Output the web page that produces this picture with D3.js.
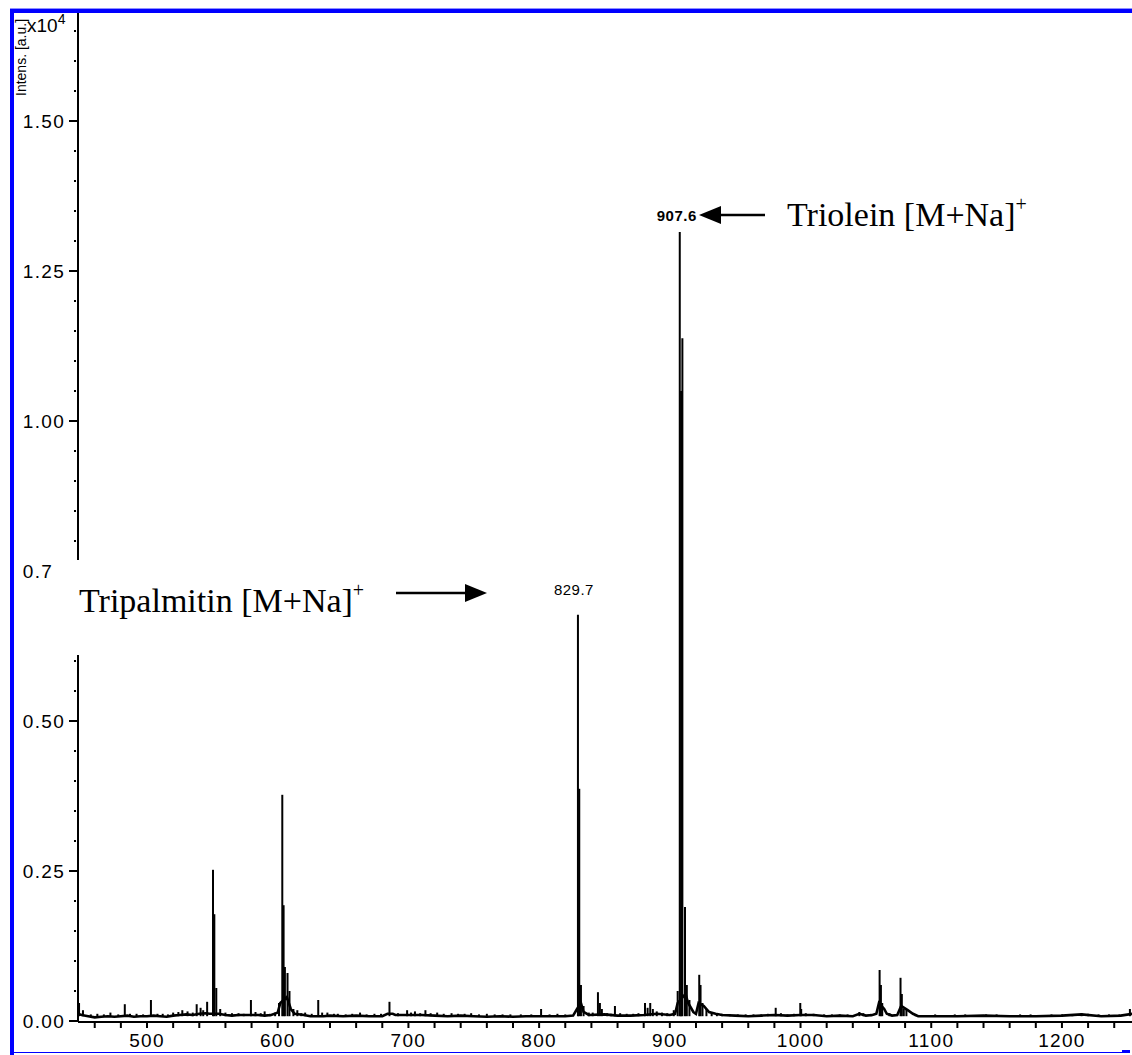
<!DOCTYPE html>
<html>
<head>
<meta charset="utf-8">
<script src="https://cdn.jsdelivr.net/npm/d3@7"></script>
<style>
  body { margin: 0; background: #fff; }
  svg { display: block; }
</style>
</head>
<body>
<div id="chart"></div>
<script>
const width = 1132;
const height = 1055;

// noisy baseline of the spectrum, [m/z, intensity x10^4]
const baseline = [
  [447, 0.012], [450, 0.010], [455, 0.008], [460, 0.006], [465, 0.007], [470, 0.008],
  [475, 0.007], [480, 0.008], [485, 0.009], [490, 0.007], [495, 0.008], [500, 0.008],
  [505, 0.009], [510, 0.008], [515, 0.007], [520, 0.009], [525, 0.010], [530, 0.011],
  [535, 0.010], [540, 0.012], [545, 0.013], [548, 0.012], [555, 0.012], [560, 0.010],
  [565, 0.009], [570, 0.010], [575, 0.010], [585, 0.010], [590, 0.009], [595, 0.010],
  [600, 0.014], [602, 0.030], [607, 0.040], [610, 0.020], [613, 0.012], [620, 0.010],
  [625, 0.008], [635, 0.008], [640, 0.009], [650, 0.008], [660, 0.009], [670, 0.008],
  [680, 0.008], [684, 0.012], [688, 0.012], [690, 0.010], [700, 0.010], [710, 0.010],
  [720, 0.009], [730, 0.008], [740, 0.009], [750, 0.008], [760, 0.007], [770, 0.008],
  [780, 0.007], [790, 0.008], [800, 0.008], [810, 0.008], [820, 0.008], [826, 0.009],
  [829, 0.020], [832, 0.030], [834, 0.015], [838, 0.010], [850, 0.011], [860, 0.009],
  [870, 0.009], [880, 0.010], [890, 0.012], [900, 0.010], [904, 0.012], [906, 0.030],
  [912, 0.045], [914, 0.030], [918, 0.015], [920, 0.012], [922, 0.030], [926, 0.025],
  [930, 0.015], [935, 0.012], [940, 0.010], [950, 0.009], [960, 0.008], [970, 0.009],
  [980, 0.010], [990, 0.009], [1000, 0.010], [1010, 0.010], [1020, 0.008], [1030, 0.009],
  [1040, 0.008], [1045, 0.012], [1050, 0.009], [1055, 0.010], [1058, 0.012], [1060, 0.030],
  [1064, 0.020], [1066, 0.012], [1070, 0.009], [1074, 0.010], [1077, 0.025], [1082, 0.018],
  [1086, 0.012], [1090, 0.008], [1100, 0.008], [1120, 0.008], [1140, 0.009], [1160, 0.008],
  [1180, 0.008], [1200, 0.009], [1215, 0.011], [1230, 0.008], [1245, 0.009], [1254, 0.012]
];

// peak sticks, [m/z, intensity x10^4]
const peaks = [
  [448, 0.030], [451, 0.018], [457, 0.011], [462, 0.012], [467, 0.011], [472, 0.014],
  [478, 0.011], [483, 0.028], [487, 0.012], [492, 0.012], [497, 0.011], [503, 0.035],
  [508, 0.012], [512, 0.012], [516, 0.011], [520, 0.014], [524, 0.015], [527, 0.018],
  [531, 0.016], [535, 0.014], [538, 0.028], [541, 0.022], [543, 0.018], [546, 0.032],
  [550.5, 0.252], [551.5, 0.178], [553, 0.055], [556, 0.020], [560, 0.014], [565, 0.013],
  [570, 0.013], [574, 0.012], [579.5, 0.035], [583, 0.015], [587, 0.013], [590, 0.016],
  [594, 0.012], [598, 0.014], [601, 0.030], [603.5, 0.377], [604.5, 0.193], [605.5, 0.090],
  [607.5, 0.080], [609, 0.050], [612, 0.020], [615, 0.018], [618, 0.013], [621, 0.014],
  [626, 0.012], [631, 0.035], [634, 0.014], [638, 0.014], [643, 0.012], [646, 0.012],
  [652, 0.011], [657, 0.012], [663, 0.014], [668, 0.011], [674, 0.012], [679, 0.012],
  [685.5, 0.032], [692, 0.013], [699, 0.018], [702, 0.014], [705, 0.016], [709, 0.013],
  [713, 0.018], [717, 0.013], [722, 0.014], [727, 0.012], [733, 0.013], [738, 0.012],
  [743, 0.012], [748, 0.013], [754, 0.011], [760, 0.012], [766, 0.011], [772, 0.011],
  [778, 0.011], [786, 0.011], [794, 0.011], [801.5, 0.020], [808, 0.011], [814, 0.012],
  [820, 0.011], [829.7, 0.677], [830.7, 0.387], [832, 0.060], [834, 0.025], [838, 0.014],
  [841, 0.014], [845, 0.048], [846.5, 0.030], [848, 0.020], [852, 0.013], [855, 0.012],
  [858, 0.025], [862, 0.013], [867, 0.012], [872, 0.012], [876, 0.013], [881, 0.030],
  [883, 0.022], [885, 0.030], [887, 0.020], [890, 0.016], [894, 0.014], [898, 0.013],
  [903, 0.018], [906, 0.050], [907.6, 1.315], [908.6, 1.050], [909.6, 1.138], [911.6, 0.190],
  [913, 0.060], [915, 0.035], [922.5, 0.077], [923.5, 0.060], [925, 0.030], [928, 0.020],
  [932, 0.015], [936, 0.013], [940, 0.012], [946, 0.011], [952, 0.011], [958, 0.011],
  [964, 0.011], [970, 0.011], [975, 0.012], [981, 0.022], [985, 0.013], [990, 0.011],
  [995, 0.012], [999.8, 0.030], [1000.5, 0.020], [1004, 0.013], [1010, 0.012], [1018, 0.011],
  [1024, 0.011], [1030, 0.011], [1036, 0.011], [1045, 0.015], [1048, 0.013], [1054, 0.012],
  [1060.5, 0.085], [1061.5, 0.060], [1062.5, 0.030], [1068, 0.013], [1076.5, 0.072],
  [1077.5, 0.045], [1079, 0.020], [1081, 0.020], [1088, 0.011], [1095, 0.010], [1103, 0.011],
  [1110, 0.010], [1118, 0.011], [1126, 0.011], [1134, 0.010], [1142, 0.011], [1150, 0.011],
  [1160, 0.010], [1168, 0.011], [1176, 0.011], [1184, 0.010], [1192, 0.011], [1200, 0.011],
  [1208, 0.011], [1215, 0.013], [1220, 0.012], [1228, 0.011], [1236, 0.011], [1244, 0.011],
  [1252, 0.020]
];

const yTicks = [0, 0.25, 0.5, 0.75, 1.0, 1.25, 1.5];
const xTicks = [500, 600, 700, 800, 900, 1000, 1100, 1200];
const peakLabels = [[829.7, 0.677, '829.7'], [907.6, 1.315, '907.6']];

const margin = { left: 78, top: 13, right: 0, bottom: 34 };

const svg = d3.select('#chart')
    .append('svg')
    .attr('width', width)
    .attr('height', height);

svg.append('rect')
    .attr('width', width)
    .attr('height', height)
    .attr('fill', '#fff');

const x = d3.scaleLinear()
    .domain([447.2, 1253.6])
    .range([margin.left, width]);

const y = d3.scaleLinear()
    .domain([0, 1.7])
    .range([1021, 1]);

// spectrum
svg.append('clipPath').attr('id', 'plot')
  .append('rect')
    .attr('x', margin.left)
    .attr('y', margin.top)
    .attr('width', width - margin.left)
    .attr('height', 1021 - margin.top);

const plot = svg.append('g').attr('clip-path', 'url(#plot)');

const line = d3.line()
    .x(d => x(d[0]))
    .y(d => y(d[1]));

plot.append('path')
    .datum(baseline)
    .attr('d', line)
    .attr('fill', 'none')
    .attr('stroke', '#000')
    .attr('stroke-width', 2.6);

plot.selectAll('.stick')
    .data(peaks)
    .enter().append('line')
    .attr('class', 'stick')
    .attr('x1', d => x(d[0]))
    .attr('x2', d => x(d[0]))
    .attr('y1', y(0.008))
    .attr('y2', d => y(d[1]))
    .attr('stroke', '#000')
    .attr('stroke-width', 2);

// y axis
const axisFont = 'Liberation Sans, Arial, sans-serif';

svg.append('line')
    .attr('x1', margin.left).attr('x2', margin.left)
    .attr('y1', margin.top).attr('y2', y(0) + 1)
    .attr('stroke', '#000').attr('stroke-width', 2);

const minor = d3.range(0.05, 1.68, 0.05).filter(v => Math.abs(v / 0.25 - Math.round(v / 0.25)) > 0.01);
svg.selectAll('.ydot')
    .data(minor)
    .enter().append('rect')
    .attr('x', margin.left - 4)
    .attr('y', d => y(d) - 1)
    .attr('width', 2).attr('height', 2)
    .attr('fill', '#000');

const yt = svg.selectAll('.ytick')
    .data(yTicks)
    .enter().append('g')
    .attr('transform', d => `translate(0,${y(d)})`);
yt.append('line')
    .attr('x1', margin.left - 9).attr('x2', margin.left)
    .attr('stroke', '#000').attr('stroke-width', 2);
yt.append('text')
    .attr('x', margin.left - 13)
    .attr('dy', '0.36em')
    .attr('text-anchor', 'end')
    .style('font-family', axisFont)
    .style('font-size', '19px')
    .style('letter-spacing', '1.3px')
    .text(d => d.toFixed(2));

// x axis
svg.append('line')
    .attr('x1', margin.left).attr('x2', width)
    .attr('y1', y(0) + 1).attr('y2', y(0) + 1)
    .attr('stroke', '#000').attr('stroke-width', 2);

svg.selectAll('.xminor')
    .data(d3.range(460, 1254, 20))
    .enter().append('line')
    .attr('x1', d => x(d)).attr('x2', d => x(d))
    .attr('y1', y(0) + 2).attr('y2', y(0) + 7)
    .attr('stroke', '#000').attr('stroke-width', 2);

svg.selectAll('.xlabel')
    .data(xTicks)
    .enter().append('text')
    .attr('x', d => x(d))
    .attr('y', 1047)
    .attr('text-anchor', 'middle')
    .style('font-family', axisFont)
    .style('font-size', '19px')
    .style('letter-spacing', '1.3px')
    .text(d => d);

// axis title and exponent
svg.append('text')
    .attr('transform', 'translate(26,96) rotate(-90)')
    .style('font-family', axisFont)
    .style('font-size', '14px')
    .text('Intens. [a.u.]');

const expo = svg.append('text')
    .attr('x', 27).attr('y', 32)
    .style('font-family', axisFont)
    .style('font-size', '19px');
expo.append('tspan').text('x10');
expo.append('tspan').attr('dy', -8).style('font-size', '14px').text('4');

// peak labels
svg.selectAll('.plabel')
    .data(peakLabels)
    .enter().append('text')
    .attr('x', d => d[2] === '907.6' ? x(d[0]) + 17 : x(d[0]) - 4)
    .attr('y', d => y(d[1]) - (d[2] === '907.6' ? 11 : 20))
    .attr('text-anchor', d => d[2] === '907.6' ? 'end' : 'middle')
    .style('font-family', axisFont)
    .style('font-size', '15px')
    .style('letter-spacing', '0.5px')
    .style('font-weight', d => d[2] === '907.6' ? 'bold' : 'normal')
    .text(d => d[2]);

// annotation: Tripalmitin (white box cuts through the y axis)
svg.append('rect')
    .attr('x', 52).attr('y', 560)
    .attr('width', 440).attr('height', 95)
    .attr('fill', '#fff');

function arrow(x1, x2, yy) {
  const dir = x2 > x1 ? 1 : -1;
  svg.append('line')
      .attr('x1', x1).attr('x2', x2 - dir * 18)
      .attr('y1', yy).attr('y2', yy)
      .attr('stroke', '#000').attr('stroke-width', 2.5);
  svg.append('path')
      .attr('d', `M${x2},${yy} L${x2 - dir * 22},${yy - 9} L${x2 - dir * 22},${yy + 9} Z`)
      .attr('fill', '#000');
}

const serif = 'Liberation Serif, Times New Roman, serif';

const tp = svg.append('text')
    .attr('x', 79).attr('y', 612)
    .style('font-family', serif)
    .style('font-size', '34px');
tp.append('tspan').text('Tripalmitin [M+Na]');
tp.append('tspan').attr('dy', -15).style('font-size', '20px').text('+');
arrow(396, 487, 593);

// annotation: Triolein
arrow(765, 699, 215);
const to = svg.append('text')
    .attr('x', 787).attr('y', 226)
    .style('font-family', serif)
    .style('font-size', '34px');
to.append('tspan').text('Triolein [M+Na]');
to.append('tspan').attr('dy', -15).style('font-size', '20px').text('+');

// blue frame
svg.append('rect').attr('x', 10).attr('y', 8).attr('width', width - 10).attr('height', 1).attr('fill', '#9090ff');
svg.append('rect').attr('x', 10).attr('y', 9).attr('width', width - 10).attr('height', 4).attr('fill', '#0000ff');
svg.append('rect').attr('x', 10).attr('y', 9).attr('width', 4).attr('height', height - 9).attr('fill', '#0000ff');
svg.append('rect').attr('x', 10).attr('y', 1052).attr('width', 1112).attr('height', 1).attr('fill', '#0000ff');
svg.append('rect').attr('x', 1122).attr('y', 1050).attr('width', 8).attr('height', 3).attr('fill', '#0000ff');
</script>
</body>
</html>
